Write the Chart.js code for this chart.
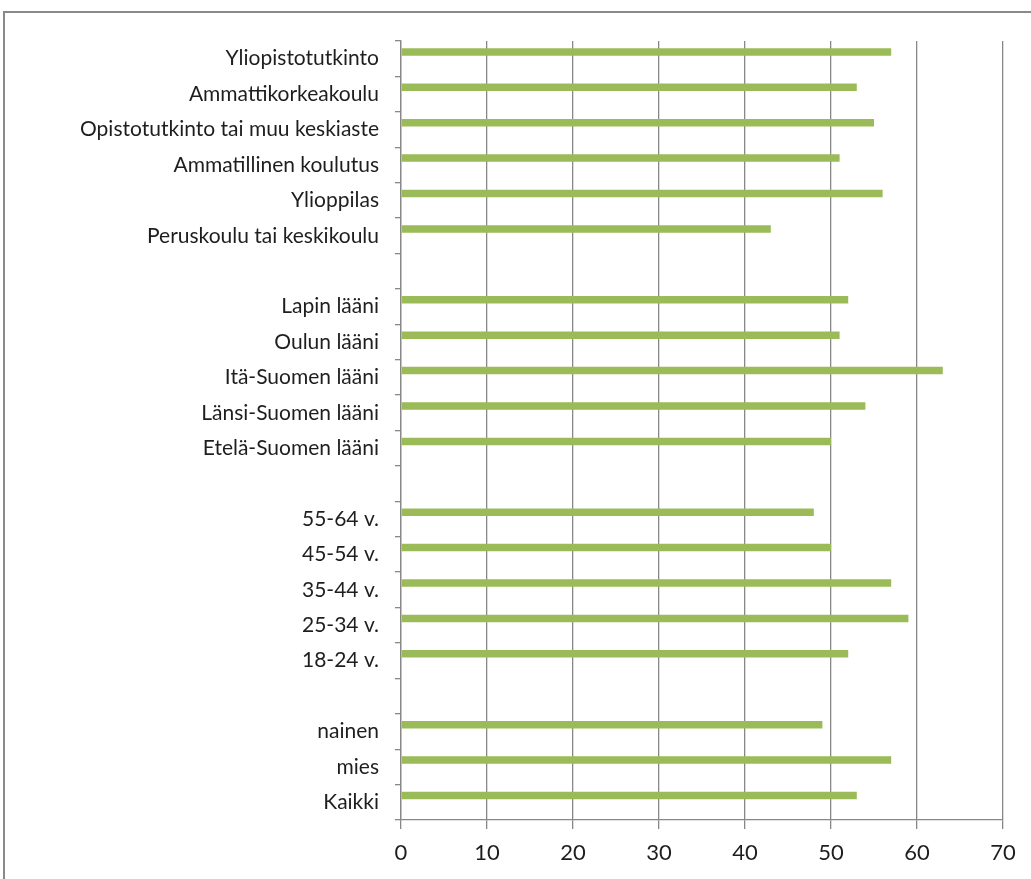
<!DOCTYPE html>
<html>
<head>
<meta charset="utf-8">
<script src="https://cdn.jsdelivr.net/npm/chart.js@4/dist/chart.umd.min.js"></script>
<style>
  html, body { margin: 0; padding: 0; background: #fff; }
  #wrap { position: relative; width: 1031px; height: 879px; overflow: hidden; }
  #frame { position: absolute; left: 3px; top: 11px; width: 1100px; height: 1000px;
           border-left: 2px solid #8a8a8a; border-top: 2px solid #8a8a8a; }
  #chart { position: absolute; left: 0; top: 0; }
</style>
</head>
<body>
<div id="wrap">
  <div id="frame"></div>
  <canvas id="chart" width="1031" height="879"></canvas>
</div>
<script>
// groups from top to bottom, empty strings are the spacer rows
var categories = [
  'Yliopistotutkinto',
  'Ammattikorkeakoulu',
  'Opistotutkinto tai muu keskiaste',
  'Ammatillinen koulutus',
  'Ylioppilas',
  'Peruskoulu tai keskikoulu',
  '',
  'Lapin lääni',
  'Oulun lääni',
  'Itä-Suomen lääni',
  'Länsi-Suomen lääni',
  'Etelä-Suomen lääni',
  '',
  '55-64 v.',
  '45-54 v.',
  '35-44 v.',
  '25-34 v.',
  '18-24 v.',
  '',
  'nainen',
  'mies',
  'Kaikki'
];
var values = [57, 53, 55, 51, 56, 43, null, 52, 51, 63, 54, 50, null, 48, 50, 57, 59, 52, null, 49, 57, 53];
// second series is empty, it only reserves the lower half of each row
var emptySeries = categories.map(function(){ return null; });
var xTicks = [0, 10, 20, 30, 40, 50, 60, 70];

var gridColor = '#888888';
var fontFamily = 'Lato, "Liberation Sans", sans-serif';

var ctx = document.getElementById('chart').getContext('2d');
var myChart = new Chart(ctx, {
  type: 'bar',
  data: {
    labels: categories,
    datasets: [{
      label: 'arvo',
      data: values,
      backgroundColor: '#9bbb59',
      categoryPercentage: 0.77,
      barPercentage: 0.55
    }, {
      label: 'tyhjä',
      data: emptySeries,
      backgroundColor: '#c0504d',
      categoryPercentage: 0.77,
      barPercentage: 0.55
    }]
  },
  options: {
    indexAxis: 'y',
    responsive: false,
    animation: false,
    layout: { padding: { top: 41, right: 28, left: 0, bottom: 0 } },
    plugins: {
      legend: { display: false },
      tooltip: { enabled: false }
    },
    scales: {
      x: {
        min: 0,
        max: 70,
        afterBuildTicks: function(scale){
          scale.ticks = xTicks.map(function(v){ return { value: v }; });
        },
        afterFit: function(scale){ scale.height = 59; },
        grid: { color: gridColor, lineWidth: 1.3, tickLength: 9 },
        border: { color: gridColor, width: 1.3 },
        ticks: { color: '#1e1e1e', padding: 11, font: { family: fontFamily, size: 22 } }
      },
      y: {
        afterFit: function(scale){ scale.width = 401; },
        grid: { drawOnChartArea: false, offset: true, color: gridColor, tickLength: 6, lineWidth: 1.3 },
        border: { color: gridColor, width: 1.3 },
        ticks: { color: '#1e1e1e', padding: 16, autoSkip: false, font: { family: fontFamily, size: 21 } }
      }
    }
  }
});
</script>
</body>
</html>
